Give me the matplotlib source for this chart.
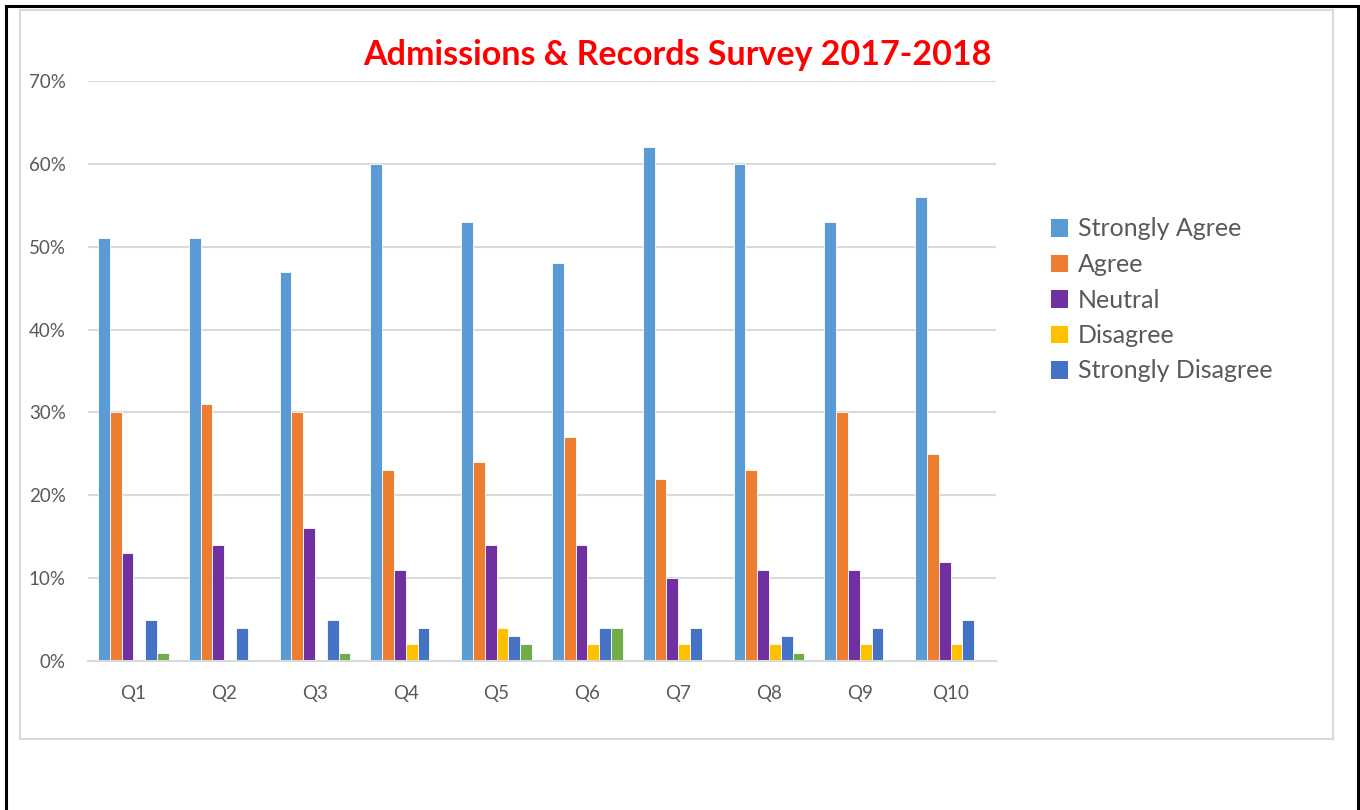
import matplotlib.pyplot as plt
import numpy as np
from matplotlib.patches import Rectangle, Patch
from matplotlib.lines import Line2D
from matplotlib.ticker import FuncFormatter

questions = ["Q1", "Q2", "Q3", "Q4", "Q5", "Q6", "Q7", "Q8", "Q9", "Q10"]
strongly_agree = [51, 51, 47, 60, 53, 48, 62, 60, 53, 56]
agree = [30, 31, 30, 23, 24, 27, 22, 23, 30, 25]
neutral = [13, 14, 16, 11, 14, 14, 10, 11, 11, 12]
disagree = [0, 0, 0, 2, 4, 2, 2, 2, 2, 2]
strongly_disagree = [5, 4, 5, 4, 3, 4, 4, 3, 4, 5]
no_answer = [1, 0, 1, 0, 2, 4, 0, 1, 0, 0]

series = [
    ("Strongly Agree", strongly_agree, "#5B9BD5"),
    ("Agree", agree, "#ED7D31"),
    ("Neutral", neutral, "#7030A0"),
    ("Disagree", disagree, "#FFC000"),
    ("Strongly Disagree", strongly_disagree, "#4472C4"),
    ("", no_answer, "#70AD47"),
]

plt.rcParams["font.family"] = ["Lato", "DejaVu Sans"]

fig = plt.figure(figsize=(13.6, 8.1), dpi=100)

# outer black frame (left, top, right) and inner grey chart border
fig.add_artist(Line2D([5.5 / 1360, 5.5 / 1360], [0, 1 - 6 / 810], color="black", lw=2.2))
fig.add_artist(Line2D([5.5 / 1360, 1357.5 / 1360], [1 - 6 / 810, 1 - 6 / 810], color="black", lw=2.2))
fig.add_artist(Line2D([1357.5 / 1360, 1357.5 / 1360], [0, 1 - 6 / 810], color="black", lw=2.2))
fig.add_artist(Rectangle((20 / 1360, 1 - 739 / 810), 1313 / 1360, 729 / 810,
                         fill=False, edgecolor="#d9d9d9", lw=1.5, transform=fig.transFigure))

ax = fig.add_axes([88 / 1360, 1 - 661 / 810, 908 / 1360, 580 / 810])

x = np.arange(len(questions))
bw = 0.13
for i, (name, vals, col) in enumerate(series):
    offs = (i - 2.5) * bw
    ax.bar(x + offs, [v / 100 for v in vals], bw, color=col, edgecolor="white", linewidth=0.6)

ax.set_xlim(-0.5, len(questions) - 0.5)
ax.set_ylim(0, 0.70)
ax.set_yticks(np.arange(0, 0.71, 0.10))
ax.yaxis.set_major_formatter(FuncFormatter(lambda v, p: f"{v * 100:.0f}%"))
ax.set_xticks(x)
ax.set_xticklabels(questions)
ax.tick_params(axis="both", length=0, colors="#595959", labelsize=13.5)
ax.tick_params(axis="x", pad=17)
ax.tick_params(axis="y", pad=16)
ax.grid(axis="y", color="#d9d9d9", lw=1.5)
ax.set_axisbelow(True)
for s in ["top", "right", "left"]:
    ax.spines[s].set_visible(False)
ax.spines["bottom"].set_color("#d9d9d9")
ax.spines["bottom"].set_linewidth(1.5)

fig.text(677 / 1360, 1 - 55 / 810, "Admissions & Records Survey 2017-2018",
         color="#FF0000", fontsize=24.5, fontweight="bold", ha="center", va="center")

handles = [Patch(facecolor=c, edgecolor="none", label=n) for n, v, c in series[:5]]
leg = fig.legend(handles=handles, loc="upper left", bbox_to_anchor=(1028 / 1360, 1 - 195 / 810),
                 frameon=False, fontsize=18, handlelength=0.7, handleheight=0.7,
                 handletextpad=0.4, labelspacing=0.5, labelcolor="#595959")

fig.savefig("out.png", dpi=100, facecolor="white")
